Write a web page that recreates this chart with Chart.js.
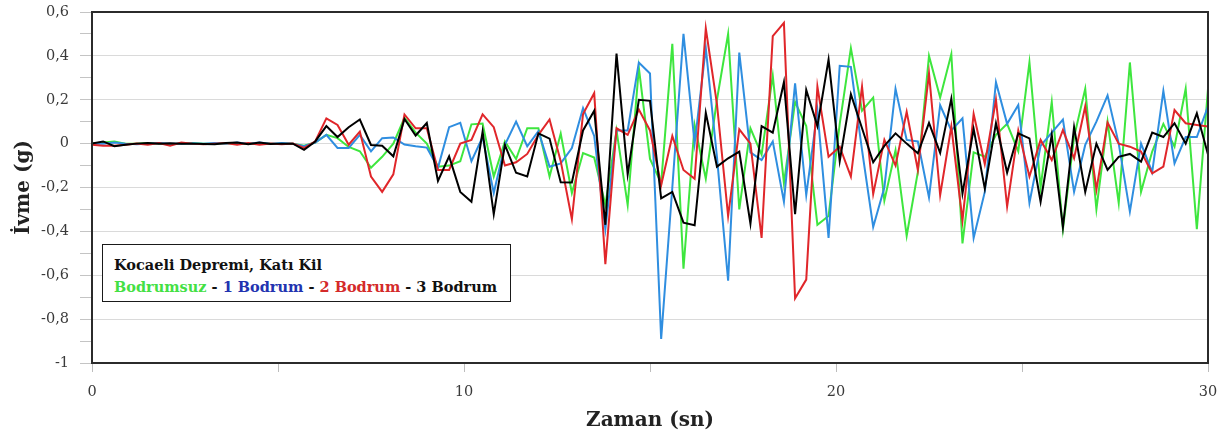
<!DOCTYPE html>
<html>
<head>
<meta charset="utf-8">
<script src="https://cdn.jsdelivr.net/npm/chart.js@4.4.0/dist/chart.umd.min.js"></script>
<style>
  html, body { margin: 0; padding: 0; background: #fff; }
  #wrap { position: relative; width: 1223px; height: 436px; }
  #kutu {
    position: absolute; left: 102px; top: 244px; width: 409px; height: 58px;
    box-sizing: border-box; border: 1.5px solid #1a1a1a; background: #fff;
    padding: 9px 0 0 11px; white-space: nowrap;
    font-family: "DejaVu Serif", serif; font-weight: bold; font-size: 14.5px; line-height: 22px; color: #111;
  }
</style>
</head>
<body>
<div id="wrap">
  <canvas id="chart_ivme" width="1223" height="436"></canvas>
  <div id="kutu">
    <div>Kocaeli Depremi, Katı Kil</div>
    <div><span style="color:#44e044">Bodrumsuz</span> - <span style="color:#2233b0">1 Bodrum</span> - <span style="color:#d42a2a">2 Bodrum</span> - 3 Bodrum</div>
  </div>
</div>
<script>
// zaman (sn)
var zaman = [
  0, 0.3, 0.6, 0.9, 1.2, 1.5, 1.8, 2.1, 2.4, 2.7,
  3, 3.3, 3.6, 3.9, 4.2, 4.5, 4.8, 5.1, 5.4, 5.7,
  6, 6.3, 6.6, 6.9, 7.2, 7.5, 7.8, 8.1, 8.4, 8.7,
  9, 9.3, 9.6, 9.9, 10.2, 10.5, 10.8, 11.1, 11.4, 11.7,
  12, 12.3, 12.6, 12.9, 13.2, 13.5, 13.8, 14.1, 14.4, 14.7,
  15, 15.3, 15.6, 15.9, 16.2, 16.5, 16.8, 17.1, 17.4, 17.7,
  18, 18.3, 18.6, 18.9, 19.2, 19.5, 19.8, 20.1, 20.4, 20.7,
  21, 21.3, 21.6, 21.9, 22.2, 22.5, 22.8, 23.1, 23.4, 23.7,
  24, 24.3, 24.6, 24.9, 25.2, 25.5, 25.8, 26.1, 26.4, 26.7,
  27, 27.3, 27.6, 27.9, 28.2, 28.5, 28.8, 29.1, 29.4, 29.7,
  30
];

// ivme (g)
var bodrumsuz = [
  0, 0.005, 0.01, 0, 0, 0.003, 0, -0.003, 0, 0.003,
  0, 0, 0.002, 0, 0, 0.003, 0, 0, 0, -0.01,
  0.005, 0.04, 0.025, -0.015, -0.035, -0.11, -0.06, 0, 0.118, 0.05,
  0, -0.105, -0.1, -0.08, 0.088, 0.092, -0.15, 0.01, -0.07, 0.07,
  0.07, -0.15, 0.046, -0.225, -0.043, -0.063, -0.28, 0.06, -0.28, 0.345,
  -0.07, -0.18, 0.455, -0.57, 0.085, -0.16, 0.2, 0.5, -0.3, 0.07,
  -0.05, 0.31, -0.18, 0.19, 0.08, -0.37, -0.33, 0.09, 0.435, 0.15,
  0.21, -0.26, -0.03, -0.42, -0.13, 0.4, 0.21, 0.408, -0.455, -0.04,
  -0.06, 0.04, 0.09, -0.035, 0.37, -0.2, 0.19, -0.39, 0.03, 0.25,
  -0.3, 0.1, -0.27, 0.37, -0.22, -0.036, 0.09, -0.014, 0.25, -0.39,
  0.25
];
var bodrum1 = [
  0, 0, 0.005, 0, -0.003, 0, 0.003, 0, 0, 0.002,
  0, 0.003, 0, 0.005, 0, 0.005, 0, 0.003, 0, -0.012,
  0.005, 0.04, -0.02, -0.02, 0.04, -0.035, 0.025, 0.028, -0.004, -0.012,
  -0.018, -0.11, 0.075, 0.095, -0.08, 0.03, -0.225, -0.005, 0.1, -0.012,
  0.057, -0.105, -0.09, -0.02, 0.162, 0.035, -0.39, 0.06, 0.06, 0.37,
  0.32, -0.89, -0.2, 0.5, 0, 0.435, -0.06, -0.625, 0.415, -0.04,
  -0.075, 0.01, -0.265, 0.275, -0.235, 0.15, -0.43, 0.355, 0.35, -0.03,
  -0.38, -0.2, 0.25, 0.017, 0.01, -0.245, 0.175, 0.06, 0.115, -0.43,
  -0.22, 0.28, 0.09, 0.176, -0.27, -0.01, 0.05, 0.11, -0.22, -0.006,
  0.1, 0.22, 0, -0.31, 0, -0.13, 0.24, -0.09, 0.03, 0.03,
  0.17
];
var bodrum2 = [
  -0.005, -0.01, -0.01, -0.005, 0, -0.005, 0.003, -0.01, 0.005, 0,
  -0.003, 0, 0.003, -0.005, 0.003, -0.005, 0, -0.003, 0, -0.02,
  0.01, 0.115, 0.085, -0.005, 0.055, -0.15, -0.22, -0.14, 0.133, 0.07,
  0.07, -0.12, -0.12, 0, 0.017, 0.133, 0.075, -0.1, -0.085, -0.047,
  0.04, 0.11, -0.08, -0.345, 0.135, 0.23, -0.55, 0.07, 0.04, 0.155,
  0.06, -0.19, 0.035, -0.12, -0.16, 0.525, 0.18, -0.33, 0.065, 0,
  -0.43, 0.49, 0.55, -0.705, -0.62, 0.26, -0.06, -0.014, -0.15, 0.26,
  -0.23, 0.017, -0.1, 0.145, -0.12, 0.32, -0.235, 0.078, -0.35, 0.135,
  -0.093, 0.2, -0.287, 0.06, -0.15, 0.017, -0.075, 0.062, -0.067, 0.17,
  -0.21, 0.096, 0, -0.014, -0.036, -0.135, -0.105, 0.153, 0.093, 0.085,
  0.078
];
var bodrum3 = [
  0, 0.01, -0.012, -0.005, 0, 0.003, 0, 0.002, 0, 0,
  -0.002, -0.003, 0.003, 0.005, -0.003, 0.005, -0.002, 0, 0, -0.028,
  0.01, 0.08, 0.03, 0.075, 0.11, -0.006, -0.01, -0.058, 0.112, 0.037,
  0.094, -0.17, -0.058, -0.22, -0.265, 0.055, -0.322, -0.006, -0.133, -0.15,
  0.047, 0.023, -0.176, -0.177, 0.06, 0.15, -0.37, 0.41, -0.14, 0.2,
  0.195, -0.25, -0.22, -0.36, -0.372, 0.14, -0.105, -0.067, -0.036, -0.365,
  0.08, 0.05, 0.28, -0.322, 0.245, 0.08, 0.383, -0.08, 0.225, 0.07,
  -0.085, -0.01, 0.047, 0, -0.044, 0.095, -0.042, 0.205, -0.228, 0.067,
  -0.205, 0.093, -0.132, 0.047, 0.024, -0.265, 0.04, -0.38, 0.075, -0.22,
  0, -0.12, -0.06, -0.047, -0.082, 0.05, 0.03, 0.093, 0, 0.138,
  -0.05
];

var seriAdlari = ['Bodrumsuz', '1 Bodrum', '2 Bodrum', '3 Bodrum'];
var seriRenkleri = ['#3ee63e', '#2f8ee0', '#e0262a', '#000000'];

function noktalar(values){
  var pts = [];
  for(var i = 0; i < values.length; i++){
    pts.push({x: zaman[i], y: values[i]});
  }
  return pts;
}

// plot frame drawn on top of the lines
var cerceve = {
  id: 'cerceve',
  afterDatasetsDraw: function(chart){
    var a = chart.chartArea, ctx = chart.ctx;
    ctx.save();
    ctx.strokeStyle = '#2b2b2b';
    ctx.lineWidth = 2;
    ctx.strokeRect(a.left, a.top, a.right - a.left, a.bottom - a.top);
    ctx.restore();
  }
};

// keep the plot box where the original one is
function sabitle(scale){
  scale.paddingTop = 0;
  scale.paddingBottom = 0;
  scale.paddingLeft = 0;
  scale.paddingRight = 0;
}

var tumSeriler = [bodrumsuz, bodrum1, bodrum2, bodrum3];
var datasets = [];
for(var s = 0; s < tumSeriler.length; s++){
  datasets.push({
    label: seriAdlari[s],
    data: noktalar(tumSeriler[s]),
    borderColor: seriRenkleri[s],
    backgroundColor: seriRenkleri[s],
    borderWidth: 2,
    pointRadius: 0,
    tension: 0,
    order: 3 - s
  });
}

var ctx_ivme = document.getElementById('chart_ivme').getContext('2d');
var chart_ivme = new Chart(ctx_ivme, {
  type: 'line',
  data: { datasets: datasets },
  plugins: [cerceve],
  options: {
    responsive: false,
    animation: false,
    devicePixelRatio: 1,
    layout: { padding: { top: 12, right: 15, left: 0, bottom: 0 } },
    plugins: { legend: { display: false }, tooltip: { enabled: false } },
    scales: {
      x: {
        type: 'linear',
        min: 0, max: 30,
        afterFit: function(scale){ scale.height = 73; sabitle(scale); },
        border: { display: false },
        grid: { drawOnChartArea: false, drawTicks: true, tickLength: 9, color: '#bdbdbd' },
        ticks: {
          stepSize: 5,
          padding: 12,
          maxRotation: 0,
          color: '#3a3a3a',
          font: { family: 'DejaVu Serif', size: 14.5 },
          callback: function(v){ return v % 10 === 0 ? String(v) : ''; }
        },
        title: {
          display: true, text: 'Zaman (sn)', color: '#222',
          font: { family: 'DejaVu Serif', size: 20, weight: 'bold' },
          padding: { top: 0, bottom: 3 }
        }
      },
      y: {
        min: -1, max: 0.6,
        afterFit: function(scale){ scale.width = 92; sabitle(scale); },
        border: { display: false },
        grid: {
          tickLength: 12,
          color: function(c){
            var k = Math.round(c.tick.value * 10);
            return (k % 2 === 0) ? '#dadada' : 'rgba(0,0,0,0)';
          },
          tickColor: '#c4c4c4'
        },
        ticks: {
          stepSize: 0.1,
          padding: 11,
          color: '#3a3a3a',
          font: { family: 'DejaVu Serif', size: 14.5 },
          callback: function(v){
            var k = Math.round(v * 10);
            if(k % 2 !== 0) return '';
            return String(k / 10).replace('.', ',');
          }
        },
        title: {
          display: true, text: 'İvme (g)', color: '#222',
          font: { family: 'DejaVu Serif', size: 20, weight: 'bold' },
          padding: { top: 12, bottom: 0 }
        }
      }
    }
  }
});
</script>
</body>
</html>
